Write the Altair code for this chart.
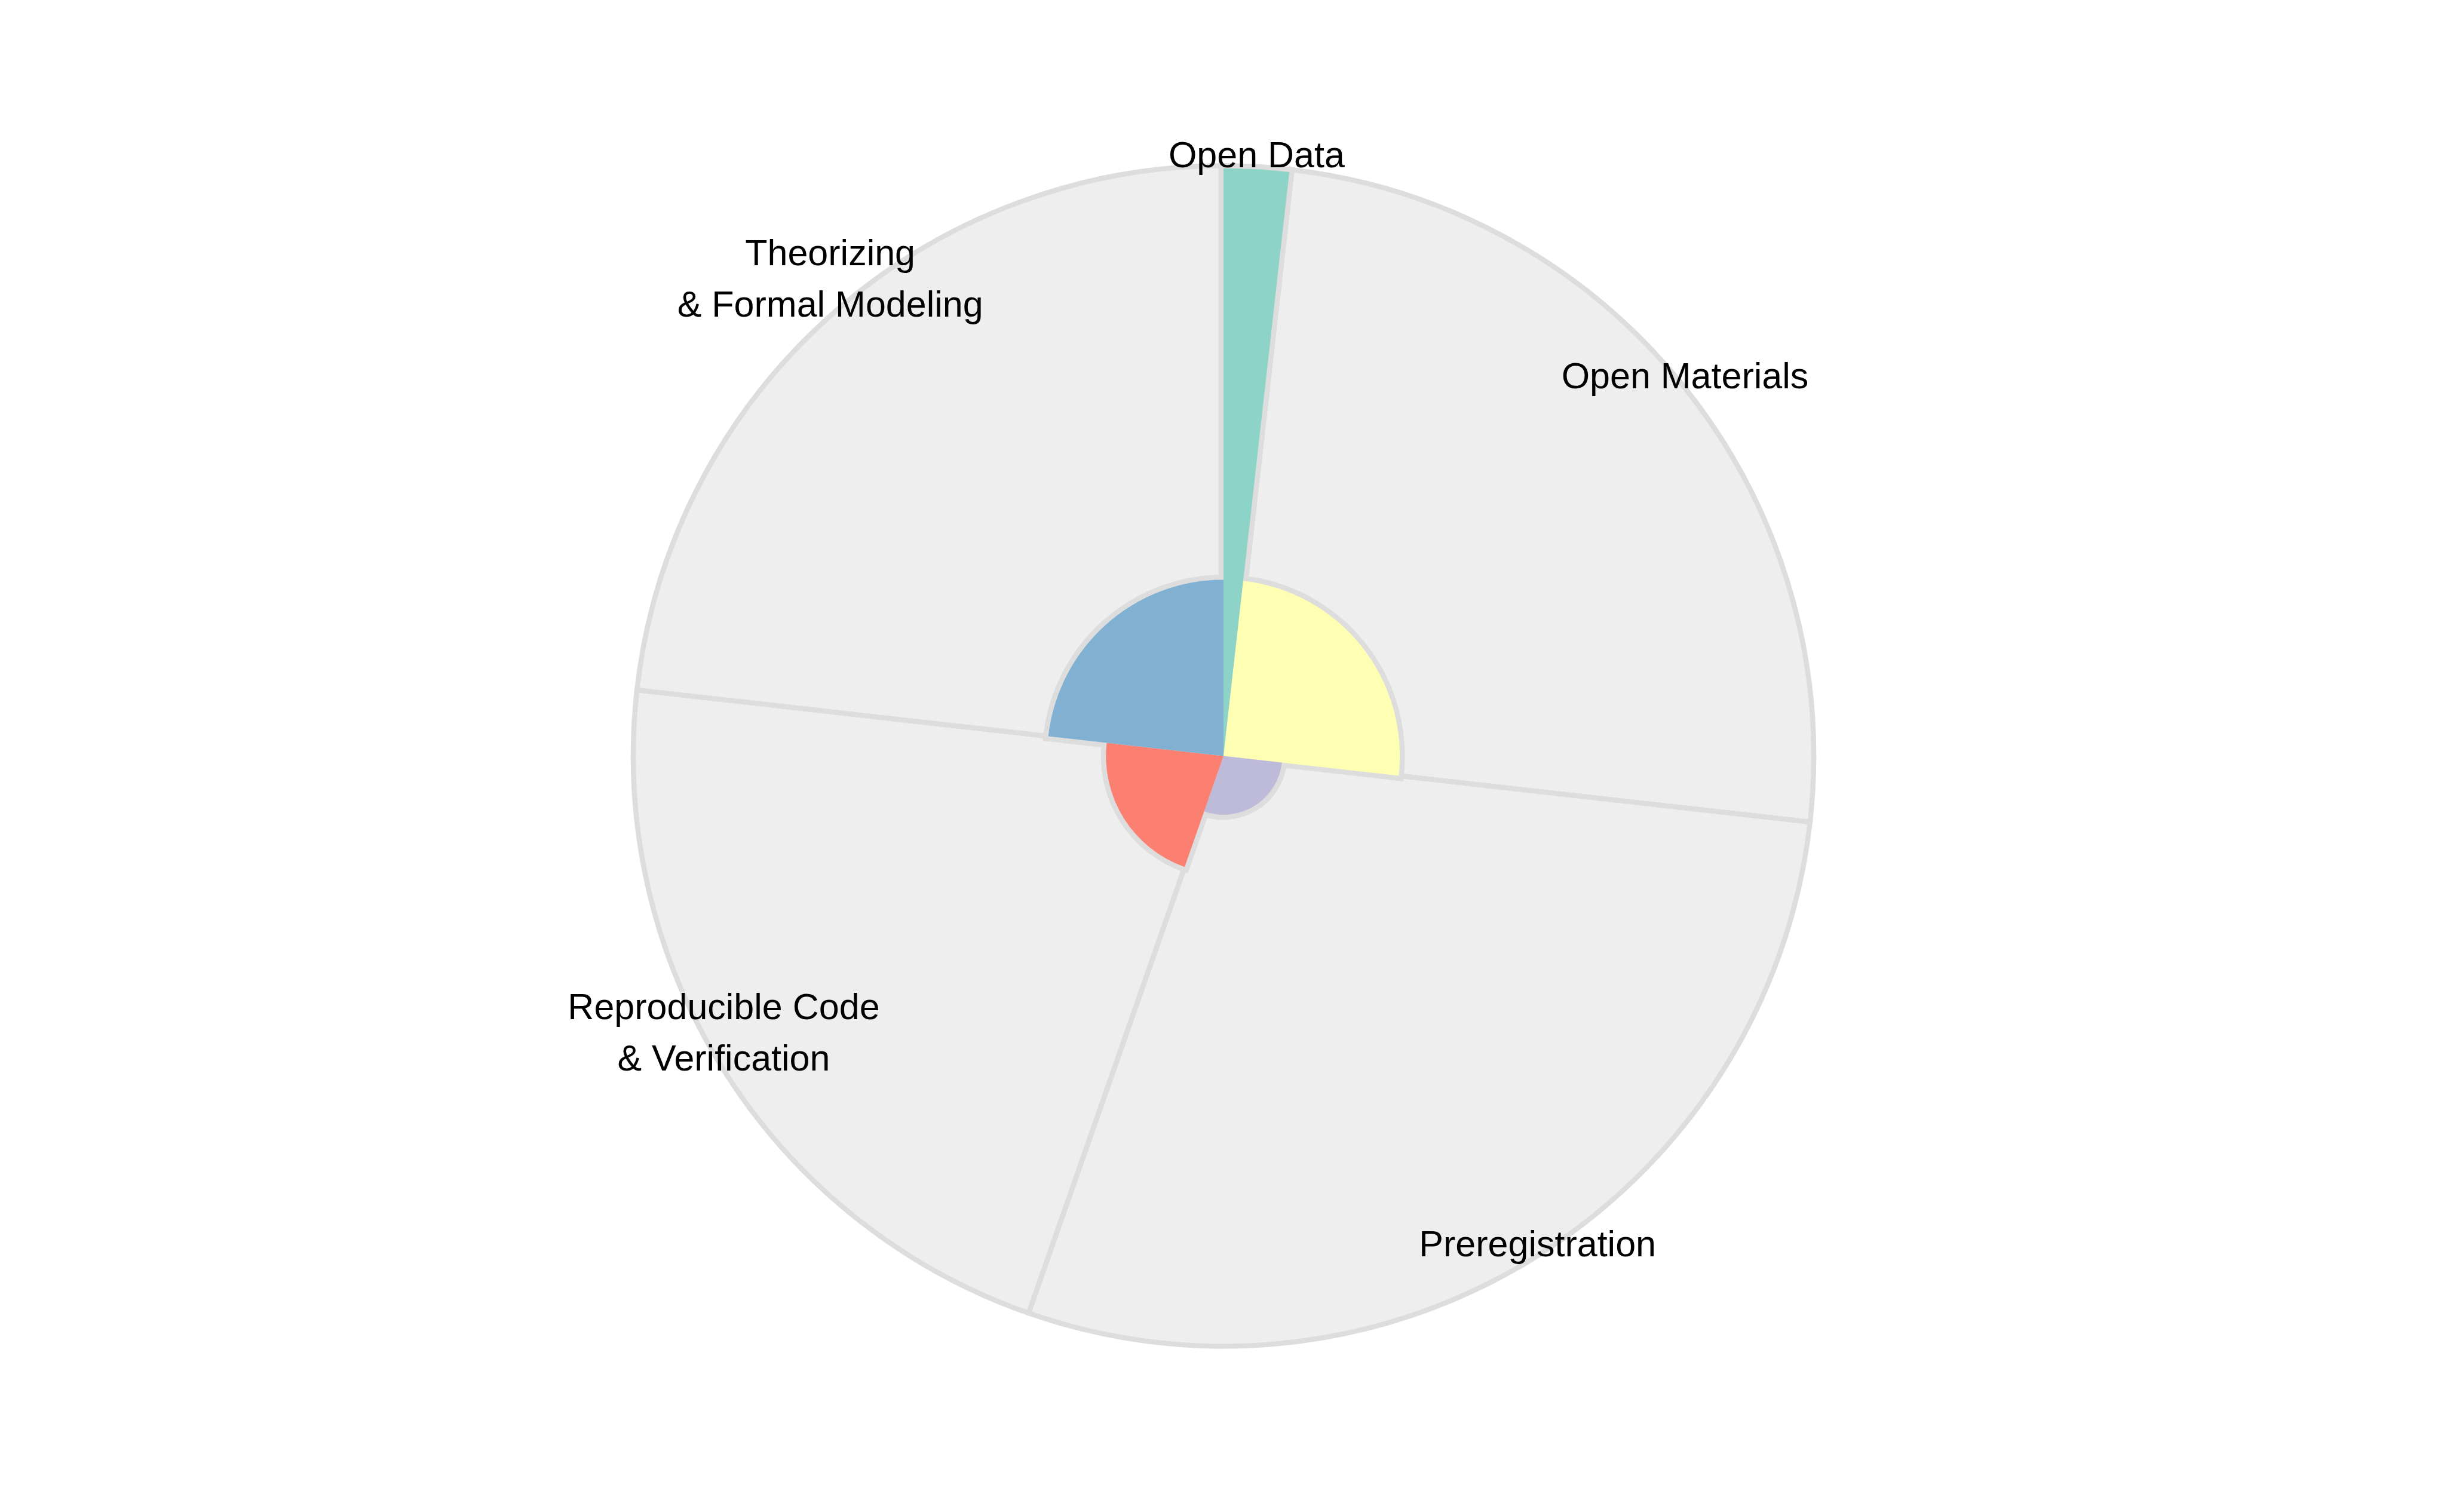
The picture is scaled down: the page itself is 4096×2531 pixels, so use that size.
import altair as alt
import pandas as pd

# Data
categories = [
    "Open Data",
    "Open Materials",
    "Preregistration",
    "Reproducible Code & Verification",
    "Theorizing & Formal Modeling",
]
label_top = ["", "", "", "Reproducible Code", "Theorizing"]
label_bottom = ["Open Data", "Open Materials", "Preregistration", "& Verification", "& Formal Modeling"]
widths = [1, 14, 16, 12, 13]      # angular share of each sector
scores = [10, 3, 1, 2, 3]         # radial length of coloured wedge
colors = ["#8dd3c7", "#ffffb3", "#bebada", "#fb8072", "#80b1d3"]

df = pd.DataFrame({
    "category": categories,
    "top": label_top,
    "bottom": label_bottom,
    "width": widths,
    "score": scores,
    "order": list(range(len(categories))),
})

W, H = 4096, 2531
R = 988
SW = 8.5

base = (
    alt.Chart(df)
    .transform_joinaggregate(total="sum(width)")
    .transform_window(cum="sum(width)", sort=[alt.SortField("order")])
    .transform_calculate(
        t_end="datum.cum / datum.total",
        t_start="(datum.cum - datum.width) / datum.total",
        t_mid="(datum.cum - datum.width / 2) / datum.total",
    )
)

theta_scale = alt.Scale(domain=[0, 1], range=[0, 6.283185307179586])
arc_enc = dict(
    theta=alt.Theta("t_start:Q", scale=theta_scale, stack=False),
    theta2=alt.Theta2("t_end:Q"),
)
color = alt.Color("category:N", scale=alt.Scale(domain=categories, range=colors), legend=None)
rad = alt.Radius("score:Q", scale=alt.Scale(type="linear", domain=[0, 10], range=[0, R - SW / 2], zero=True), stack=False)

bg = base.mark_arc(fill="#eeeeee", stroke="#dddddd", strokeWidth=SW).encode(radius=alt.value(R), **arc_enc)
outline = base.mark_arc(stroke="#dddddd", strokeWidth=2 * SW).encode(radius=rad, color=color, **arc_enc)
fill = base.mark_arc(strokeWidth=0).encode(radius=rad, color=color, **arc_enc)

text_style = dict(radius=R, font="Liberation Sans", fontSize=61, color="black",
                  align="center", baseline="bottom")
text_bottom = base.mark_text(dy=14, **text_style).encode(
    theta=alt.Theta("t_mid:Q", scale=theta_scale, stack=False), text="bottom:N")
text_top = base.mark_text(dy=14 - 86, **text_style).encode(
    theta=alt.Theta("t_mid:Q", scale=theta_scale, stack=False), text="top:N")

chart = (
    alt.layer(bg, outline, fill, text_bottom, text_top)
    .properties(width=W, height=H, autosize="none", padding=0, background="white")
    .configure_view(strokeWidth=0)
)

chart.save("out.html", embed_options={"renderer": "svg", "actions": False})
